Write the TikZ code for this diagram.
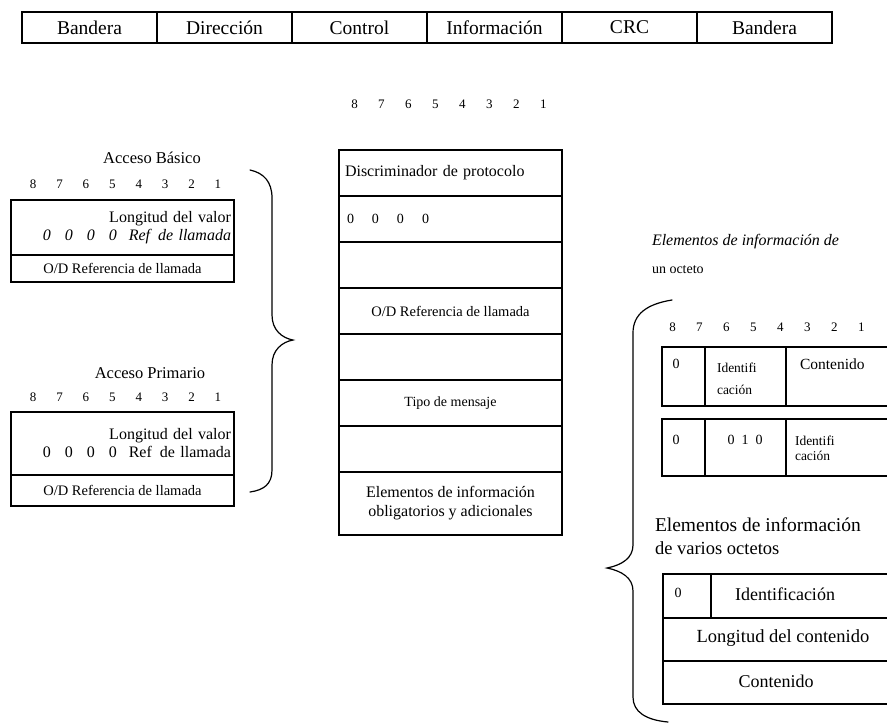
\documentclass[tikz,border=0pt]{standalone}
\usepackage{fontspec}
\setmainfont{Liberation Serif}
% row of bit numbers 8..1, each digit centred in a box of the given width
\newcommand{\bitnums}[1]{%
  \makebox[#1]{8}\makebox[#1]{7}\makebox[#1]{6}\makebox[#1]{5}%
  \makebox[#1]{4}\makebox[#1]{3}\makebox[#1]{2}\makebox[#1]{1}}
\newcommand{\fs}[1]{\fontsize{#1}{#1}\selectfont}
\tikzset{
  cell/.style={draw, rectangle, inner sep=0pt, outer sep=0pt},
  bartxt/.style={font=\fs{19.5}},
  numtxt/.style={font=\fs{13}},
  plain/.style={inner sep=0pt, outer sep=0pt},
  brace/.style={line width=1.2pt, line cap=round},
}
\begin{document}
\begin{tikzpicture}[x=1pt, y=-1pt, line width=1.2pt]
\useasboundingbox (0,0) rectangle (887,724);
\clip (0,0) rectangle (887,724);

% ---- frame layout bar
\foreach \t [count=\i] in {Bandera,Dirección,Control,Información,CRC,Bandera}
  \node[cell, bartxt, minimum width=135pt, minimum height=31pt] (f\i)
    at ({22+135*(\i-0.5)}, 27.5) {\t};

% ---- basic access header
\node[plain, font=\fs{16.5}] (tb) at (152,158) {Acceso Básico};
\node[plain, numtxt, anchor=west] (nb) at (20,184) {\bitnums{26.4pt}};
\node[cell, font=\fontsize{16}{18}\selectfont, minimum width=223pt, minimum height=55pt,
      text width=217pt, align=right] (b1) at (122.5,227.5)
  {Longitud del valor\\ \textit{0\hspace{14pt}0\hspace{14pt}0\hspace{14pt}0\hspace{12pt}Ref\hspace{8pt}de llamada}};
\node[cell, font=\fs{14.5}, minimum width=223pt, minimum height=27pt] (b2)
  at (122.5,268.5) {O/D Referencia de llamada};

% ---- primary access header
\node[plain, font=\fs{16.5}] (tp) at (150,373) {Acceso Primario};
\node[plain, numtxt, anchor=west] (np) at (20,397) {\bitnums{26.4pt}};
\node[cell, font=\fontsize{16}{18}\selectfont, minimum width=223pt, minimum height=63pt,
      text width=217pt, align=right] (p1) at (122.5,443.5)
  {Longitud del valor\\ 0\hspace{14pt}0\hspace{14pt}0\hspace{14pt}0\hspace{12pt}Ref\hspace{8pt}de llamada};
\node[cell, font=\fs{14.5}, minimum width=223pt, minimum height=31pt] (p2)
  at (122.5,490.5) {O/D Referencia de llamada};

% ---- brace joining both access headers
\coordinate (lbt) at (250,170);
\coordinate (lbtip) at (293,340);
\coordinate (lbb) at (250,492);
\draw[brace] (lbt) .. controls (264,173) and (272,182) .. (272,198)
  -- (272,315) .. controls (272,330) and (282,338) .. (lbtip)
  .. controls (282,342) and (272,350) .. (272,365)
  -- (272,470) .. controls (272,484) and (264,490) .. (lbb);

% ---- message structure
\node[plain, numtxt, anchor=west] (nm) at (341,104) {\bitnums{27pt}};
\node[cell, font=\fs{16}, minimum width=223pt, minimum height=46pt,
      text width=211pt, align=left] (m1) at (450.5,173) {Discriminador de protocolo};
\node[cell, font=\fs{14}, minimum width=223pt, minimum height=46pt,
      text width=207pt, align=left] (m2) at (450.5,219)
  {0\hspace{18pt}0\hspace{18pt}0\hspace{18pt}0};
\node[cell, minimum width=223pt, minimum height=46pt] (m3) at (450.5,265) {};
\node[cell, font=\fs{14.5}, minimum width=223pt, minimum height=46pt] (m4) at (450.5,311)
  {O/D Referencia de llamada};
\node[cell, minimum width=223pt, minimum height=46pt] (m5) at (450.5,357) {};
\node[cell, font=\fs{14}, minimum width=223pt, minimum height=46pt] (m6) at (450.5,403)
  {Tipo de mensaje};
\node[cell, minimum width=223pt, minimum height=46pt] (m7) at (450.5,449) {};
\node[cell, font=\fontsize{16}{19}\selectfont, minimum width=223pt, minimum height=63pt,
      align=center] (m8) at (450.5,503.5) {Elementos de información\\obligatorios y adicionales};

% ---- information elements
\node[plain, font=\fs{16}, anchor=west] (e1) at (652,242) {\textit{Elementos de información de}};
\node[plain, font=\fs{14}, anchor=west] (e2) at (652,270) {un octeto};
\node[plain, numtxt, anchor=west] (nr) at (659,327) {\bitnums{27pt}};

% single octet, type 1
\node[cell, minimum width=43pt, minimum height=59pt] (a1) at (683.5,376.5) {};
\node[cell, minimum width=81pt, minimum height=59pt] (a2) at (745.5,376.5) {};
\node[cell, minimum width=124pt, minimum height=59pt] (a3) at (848,376.5) {};
\node[plain, font=\fs{14}] (a1t) at (676,364) {0};
\node[plain, font=\fontsize{13.5}{22}\selectfont, anchor=west, align=left] (a2t) at (717,379)
  {Identifi\\cación};
\node[plain, font=\fs{15.5}, anchor=west] (a3t) at (800,364) {Contenido};

% single octet, type 2
\node[cell, minimum width=43pt, minimum height=57pt] (c1) at (683.5,447.5) {};
\node[cell, minimum width=81pt, minimum height=57pt] (c2) at (745.5,447.5) {};
\node[cell, minimum width=124pt, minimum height=57pt] (c3) at (848,447.5) {};
\node[plain, font=\fs{14}] (c1t) at (676,440) {0};
\node[plain, font=\fs{14}] (c2t) at (745,440) {0\ \ 1\ \ 0};
\node[plain, font=\fontsize{13.5}{15}\selectfont, anchor=west, align=left] (c3t) at (795,448)
  {Identifi\\cación};

% multi octet
\node[plain, font=\fs{19.5}, anchor=west] (v1) at (655,525)
  {Elementos de información};
\node[plain, font=\fs{18.5}, anchor=west] (v2) at (655,548)
  {de varios octetos};
\node[cell, minimum width=48pt, minimum height=44pt] (d1) at (687,596) {};
\node[cell, minimum width=199pt, minimum height=44pt] (d2) at (810.5,596) {};
\node[cell, minimum width=247pt, minimum height=43pt] (d3) at (786.5,639.5) {};
\node[cell, minimum width=247pt, minimum height=43pt] (d4) at (786.5,682.5) {};
\node[plain, font=\fs{14}] (d1t) at (678,593) {0};
\node[plain, font=\fs{18}] (d2t) at (785,594) {Identificación};
\node[plain, font=\fs{18.5}] (d3t) at (783,638) {Longitud del contenido};
\node[plain, font=\fs{18}] (d4t) at (776,681) {Contenido};

% ---- brace grouping the information elements
\coordinate (rbt) at (672,300);
\coordinate (rbtip) at (607,568);
\coordinate (rbb) at (668,722);
\draw[brace] (rbt) .. controls (647,304) and (633,314) .. (633,333)
  -- (633,545) .. controls (633,558) and (622,565) .. (rbtip)
  .. controls (622,571) and (633,578) .. (633,591)
  -- (633,697) .. controls (633,712) and (646,720) .. (rbb);
\end{tikzpicture}
\end{document}
